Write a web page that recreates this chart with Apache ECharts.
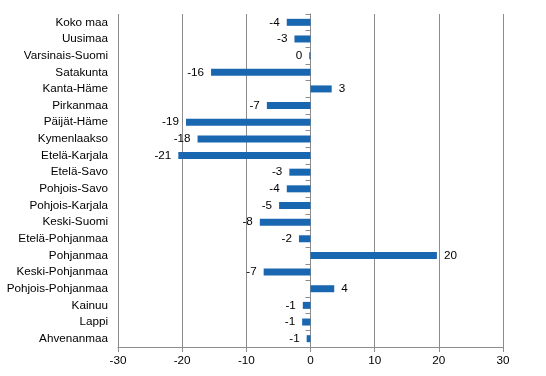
<!DOCTYPE html>
<html>
<head>
<meta charset="utf-8">
<script src="https://cdn.jsdelivr.net/npm/echarts@6/dist/echarts.min.js"></script>
<style>
  html, body { margin: 0; padding: 0; background: #fff; }
  #chart { width: 546px; height: 376px; }
</style>
</head>
<body>
<div id="chart"></div>
<script>
// Regions, top to bottom as shown
const regions = ['Koko maa', 'Uusimaa', 'Varsinais-Suomi', 'Satakunta', 'Kanta-Häme',
    'Pirkanmaa', 'Päijät-Häme', 'Kymenlaakso', 'Etelä-Karjala', 'Etelä-Savo',
    'Pohjois-Savo', 'Pohjois-Karjala', 'Keski-Suomi', 'Etelä-Pohjanmaa', 'Pohjanmaa',
    'Keski-Pohjanmaa', 'Pohjois-Pohjanmaa', 'Kainuu', 'Lappi', 'Ahvenanmaa'];

// Change values
const changes = [-3.7, -2.5, -0.2, -15.5, 3.3,
    -6.8, -19.4, -17.6, -20.6, -3.3,
    -3.7, -4.9, -7.9, -1.8, 19.7,
    -7.3, 3.7, -1.2, -1.3, -0.6];

const xTicks = [-30, -20, -10, 0, 10, 20, 30];

const chart = echarts.init(document.getElementById('chart'));

// category axis runs bottom-up in echarts, so reverse
const cats = regions.slice().reverse();
const vals = changes.slice().reverse();

function roundAway(v) {
    const r = Math.round(Math.abs(v));
    return r === 0 ? '0' : String(v < 0 ? -r : r);
}

const barData = vals.map(function (v) {
    return {
        value: v,
        label: { position: v < 0 ? 'left' : 'right' }
    };
});

const gray = '#8c8c8c';
const font = 'Liberation Sans, Arial, sans-serif';
const fs = 11.7;

chart.setOption({
    animation: false,
    grid: { left: 118, right: 43, top: 14, bottom: 29, containLabel: false },
    xAxis: {
        type: 'value',
        min: xTicks[0],
        max: xTicks[xTicks.length - 1],
        interval: 10,
        axisLine: { show: true, onZero: false, lineStyle: { color: gray } },
        axisTick: { show: true, length: 5, lineStyle: { color: gray } },
        splitLine: { show: true, lineStyle: { color: gray, width: 1 } },
        axisLabel: { color: '#000', fontSize: fs, fontFamily: font, margin: 8 }
    },
    yAxis: [{
        type: 'category',
        data: cats,
        position: 'left',
        axisLine: { show: false, onZero: false },
        axisTick: { show: false },
        axisLabel: { color: '#000', fontSize: fs, fontFamily: font, margin: 10 }
    }, {
        type: 'category',
        data: cats,
        position: 'left',
        axisLine: { show: true, onZero: true, lineStyle: { color: gray } },
        axisTick: { show: true, length: 5, lineStyle: { color: gray } },
        axisLabel: { show: false }
    }],
    series: [{
        type: 'bar',
        yAxisIndex: 0,
        data: barData,
        barWidth: 7,
        itemStyle: { color: '#1a67b1' },
        label: {
            show: true,
            distance: 7,
            color: '#000',
            fontSize: fs,
            fontFamily: font,
            formatter: function (p) { return roundAway(p.value); }
        }
    }]
});
</script>
</body>
</html>
